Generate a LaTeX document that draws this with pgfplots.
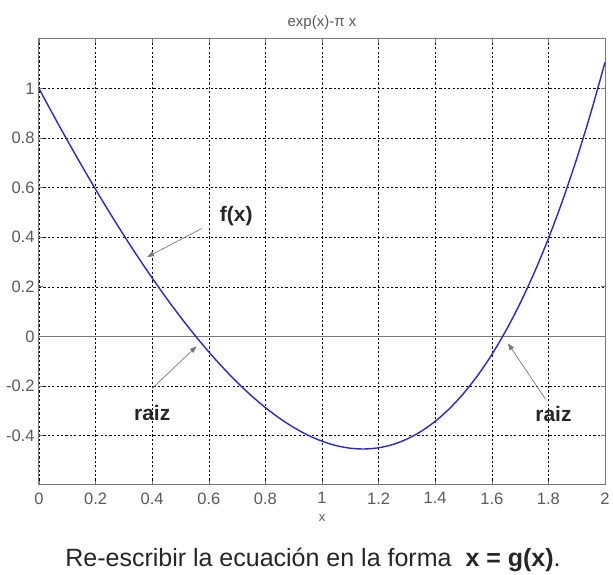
\documentclass[border=0pt]{standalone}
\usepackage{fontspec}
\setmainfont{Liberation Sans}
\usepackage{pgfplots}
\pgfplotsset{compat=1.18}
\usetikzlibrary{arrows.meta}
\definecolor{curveblue}{RGB}{40,40,210}
\definecolor{axgray}{RGB}{120,120,120}
\definecolor{txtgray}{RGB}{90,90,90}
\begin{document}
\begin{tikzpicture}[x=1pt,y=1pt]
\begin{axis}[
  at={(39pt,90pt)}, anchor=south west,
  scale only axis, width=566pt, height=446pt,
  xmin=0, xmax=2, ymin=-0.6, ymax=1.2,
  xtick={0,0.2,...,2.01},
  ytick={-0.4,-0.2,0,0.2,0.4,0.6,0.8,1},
  xticklabels={0,0.2,0.4,0.6,0.8,1,1.2,1.4,1.6,1.8,2},
  yticklabels={-0.4,-0.2,0,0.2,0.4,0.6,0.8,1},
  tick align=inside, major tick length=4pt,
  tick style={axgray, line width=0.6pt},
  axis line style={axgray, line width=1pt},
  grid=major,
  major grid style={black, dash pattern=on 2.2pt off 2.2pt, line width=0.5pt},
  ticklabel style={font=\fontsize{16.5}{18}\selectfont, text=txtgray},
  xticklabel style={yshift=-4pt},
  yticklabel style={xshift=-1pt},
  title={exp(x)-π x}, title style={font=\fontsize{15}{17}\selectfont, text=txtgray, yshift=0pt},
  xlabel={x}, xlabel style={font=\fontsize{13}{15}\selectfont, text=txtgray, yshift=-4pt},
  clip=false,
]
\addplot[axgray, line width=1.1pt, forget plot] coordinates {(0,0) (2,0)};
\addplot[curveblue, line width=1.4pt, smooth] coordinates {
(0,1) (0.05,0.894191) (0.1,0.791012) (0.15,0.690595) (0.2,0.593084)
(0.25,0.498627) (0.3,0.407381) (0.35,0.319511) (0.4,0.235188) (0.45,0.154595)
(0.5,0.077925) (0.55,0.005377) (0.6,-0.062837) (0.65,-0.126494) (0.7,-0.185362)
(0.75,-0.239194) (0.8,-0.287733) (0.85,-0.330707) (0.9,-0.367830) (0.95,-0.398803)
(1.0,-0.423311) (1.05,-0.441021) (1.1,-0.451586) (1.15,-0.454639) (1.2,-0.449794)
(1.25,-0.436648) (1.3,-0.414773) (1.35,-0.383724) (1.4,-0.343030) (1.45,-0.292194)
(1.5,-0.230700) (1.55,-0.157999) (1.6,-0.073516) (1.65,0.023352) (1.7,0.133239)
(1.75,0.256816) (1.8,0.394780) (1.85,0.547874) (1.9,0.716868) (1.95,0.902582)
(2.0,1.105871)};
\draw[axgray, line width=0.7pt, -{Triangle[length=7pt,width=5pt]}] (axis cs:0.575,0.435) -- (axis cs:0.382,0.32);
\draw[axgray, line width=0.7pt, -{Triangle[length=7pt,width=5pt]}] (axis cs:0.40,-0.21) -- (axis cs:0.557,-0.04);
\draw[axgray, line width=0.7pt, -{Triangle[length=7pt,width=5pt]}] (axis cs:1.79,-0.254) -- (axis cs:1.657,-0.028);
\node[font=\fontsize{21}{24}\selectfont\bfseries, text=black!85] at (axis cs:0.697,0.484) {f(x)};
\node[font=\fontsize{21}{24}\selectfont\bfseries, text=black!85] at (axis cs:0.40,-0.31) {raiz};
\node[font=\fontsize{21}{24}\selectfont\bfseries, text=black!85] at (axis cs:1.818,-0.315) {raiz};
\end{axis}
\node[font=\fontsize{25}{29}\selectfont, text=black!85] at (313pt,15pt) {Re-escribir la ecuación en la forma\ \ \textbf{x = g(x)}.};
\pgfresetboundingbox
\path[use as bounding box] (0,0) rectangle (613pt,575pt);
\end{tikzpicture}
\end{document}
